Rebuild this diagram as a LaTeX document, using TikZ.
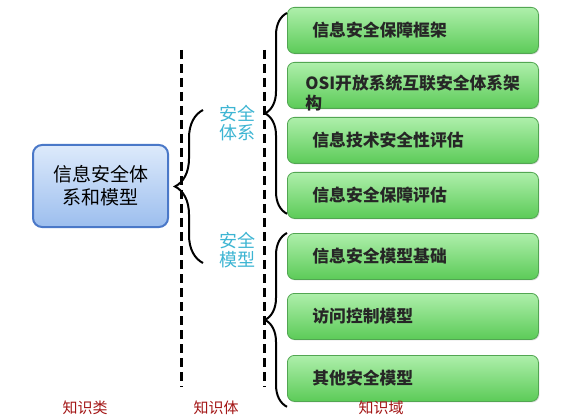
\documentclass[tikz,border=0pt]{standalone}
\usepackage{fontspec}
\newfontfamily\cjk{Noto Sans CJK SC}
\usetikzlibrary{decorations.pathreplacing,shadows}
\definecolor{boxblue}{HTML}{4A78C8}
\definecolor{lightblue}{HTML}{DDEAFB}
\definecolor{midblue}{HTML}{9CBEEE}
\definecolor{greenedge}{HTML}{52A652}
\definecolor{greentop}{HTML}{AEEFAB}
\definecolor{greenbot}{HTML}{5CCB58}
\definecolor{labelcyan}{HTML}{3DB5D3}
\definecolor{darkred}{HTML}{A31515}
\begin{document}
\begin{tikzpicture}[x=1pt,y=-1pt,
    topicbox/.style={draw=boxblue, line width=2pt, rounded corners=9pt, top color=lightblue, bottom color=midblue, minimum width=135pt, minimum height=82pt, align=center, font=\cjk\fontsize{19}{23}\selectfont},
    itembox/.style={draw=greenedge, line width=0.8pt, rounded corners=7pt, top color=greentop, bottom color=greenbot, minimum height=46pt, inner xsep=25pt, text width=201pt, align=left, anchor=north west, text=black!85, font=\cjk\bfseries\fontsize{16.8}{20}\selectfont, drop shadow={opacity=0.25, shadow xshift=1pt, shadow yshift=-1pt}},
    grouplabel/.style={text=labelcyan, align=center, font=\cjk\fontsize{18}{18.5}\selectfont},
    levellabel/.style={text=darkred, font=\cjk\fontsize{15}{18}\selectfont},
    dashline/.style={line width=3pt, dash pattern=on 9pt off 5pt},
    curlybrace/.style={decorate, line width=2pt, decoration={brace, amplitude=#1}}
]
    \path[use as bounding box, fill=white] (0,0) rectangle (568,417);

    % Topic box on the left
    \node[topicbox] (topic) at (100.5,186) {信息安全体\\系和模型};

    % Separating dashed lines
    \draw[dashline] (181,50) -- (181,387);
    \draw[dashline] (264,50) -- (264,387);

    % Two groups
    \node[grouplabel] (sysgrp) at (237,123) {安全\\体系};
    \node[grouplabel] (modgrp) at (237,250) {安全\\模型};
    \coordinate (systop) at (203,110);
    \coordinate (modbot) at (203,263);
    \draw[curlybrace=28pt] (modbot) -- (systop);

    % Items of each group
    \node[itembox] (i1) at (287,7) {信息安全保障框架};
    \node[itembox, inner xsep=18pt, text width=215pt] (i2) at (287,62) {\raisebox{-12pt}[0pt][0pt]{\parbox[c]{230pt}{OSI开放系统互联安全体系架\\构}}};
    \node[itembox] (i3) at (287,117) {信息技术安全性评估};
    \node[itembox] (i4) at (287,172) {信息安全保障评估};
    \node[itembox] (i5) at (287,233) {信息安全模型基础};
    \node[itembox] (i6) at (287,293) {访问控制模型};
    \node[itembox] (i7) at (287,355) {其他安全模型};

    \draw[curlybrace=22pt] ([yshift=5pt]i4.south west) -- ([yshift=-6pt]i1.north west);
    \draw[curlybrace=22pt] ([yshift=-5pt]i7.south west) -- (i5.north west);

    % Level names at the bottom
    \node[levellabel] (lvl1) at (85,408) {知识类};
    \node[levellabel] (lvl2) at (216,408) {知识体};
    \node[levellabel] (lvl3) at (381,408) {知识域};
\end{tikzpicture}
\end{document}
